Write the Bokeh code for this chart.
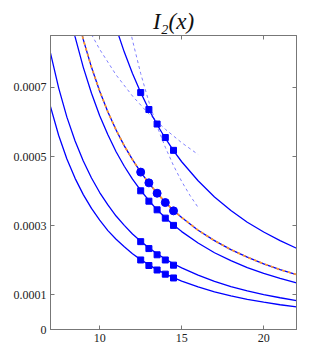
from bokeh.plotting import figure
from bokeh.models import Range1d, FixedTicker, LinearAxis
from bokeh.embed import file_html
from bokeh.resources import INLINE

# ---- data ----
x_ticks = [10, 15, 20]
y_ticks = [0, 0.0001, 0.0003, 0.0005, 0.0007]
y_tick_labels = ["0", "0.0001", "0.0003", "0.0005", "0.0007"]

c1_x = [10.5, 11, 11.5, 12, 12.5, 13, 13.5, 14, 14.5, 15, 16, 17, 18, 19, 20, 21, 22]
c1_y = [0.000952, 0.000872, 0.000802, 0.000740, 0.000685, 0.000636, 0.000592, 0.000553,
        0.000517, 0.000485, 0.000430, 0.000383, 0.000344, 0.000310, 0.000282, 0.000257, 0.000235]

c2_x = [8.5, 9, 9.5, 10, 10.5, 11, 11.5, 12, 12.5, 13, 13.5, 14, 14.5, 15, 16, 17, 18, 19, 20, 21, 22]
c2_y = [0.000932, 0.000838, 0.000758, 0.000689, 0.000629, 0.000577, 0.000531, 0.000491,
        0.000455, 0.000423, 0.000394, 0.000368, 0.000344, 0.000324, 0.000287, 0.000257,
        0.000231, 0.000209, 0.000190, 0.000173, 0.000159]

c3_x = [8, 8.5, 9, 9.5, 10, 10.5, 11, 11.5, 12, 12.5, 13, 13.5, 14, 14.5, 15, 16, 17, 18, 19, 20, 21, 22]
c3_y = [0.000951, 0.000846, 0.000758, 0.000683, 0.000618, 0.000563, 0.000514, 0.000472,
        0.000435, 0.000402, 0.000373, 0.000346, 0.000323, 0.000302, 0.000283, 0.000250,
        0.000222, 0.000199, 0.000179, 0.000162, 0.000148, 0.000135]

c4_x = [7, 7.5, 8, 8.5, 9, 9.5, 10, 10.5, 11, 11.5, 12, 12.5, 13, 13.5, 14, 14.5, 15, 16, 17, 18, 19, 20, 21, 22]
c4_y = [0.000799, 0.000698, 0.000614, 0.000545, 0.000487, 0.000438, 0.000396, 0.000360,
        0.000328, 0.000301, 0.000276, 0.000255, 0.000236, 0.000219, 0.000204, 0.000190,
        0.000178, 0.000157, 0.000139, 0.000124, 0.000112, 0.000101, 0.0000918, 0.0000837]

c5_x = [7, 7.5, 8, 8.5, 9, 9.5, 10, 10.5, 11, 11.5, 12, 12.5, 13, 13.5, 14, 14.5, 15, 16, 17, 18, 19, 20, 21, 22]
c5_y = [0.000644, 0.000561, 0.000493, 0.000437, 0.000390, 0.000350, 0.000316, 0.000286,
        0.000261, 0.000239, 0.000219, 0.000202, 0.000187, 0.000173, 0.000161, 0.000150,
        0.000140, 0.000123, 0.000109, 0.0000974, 0.0000874, 0.0000789, 0.0000716, 0.0000652]

dA_x = [9.5, 10, 11, 12, 13, 14, 15, 16]
dA_y = [0.000853, 0.000810, 0.000736, 0.000675, 0.000623, 0.000579, 0.000540, 0.000506]

dB_x = [11.8, 12, 12.5, 13, 13.5, 14, 14.5, 15, 15.5, 16]
dB_y = [0.000880, 0.000836, 0.000740, 0.000658, 0.000587, 0.000527, 0.000474, 0.000428, 0.000388, 0.000353]

mk_x = [12.5, 13, 13.5, 14, 14.5]
m1_y = [0.000685, 0.000636, 0.000594, 0.000555, 0.000518]
m2_y = [0.000455, 0.000424, 0.000394, 0.000367, 0.000343]
m3_y = [0.000401, 0.000371, 0.000346, 0.000322, 0.000301]
m4_y = [0.000254, 0.000234, 0.000216, 0.000201, 0.000186]
m5_y = [0.000201, 0.000185, 0.000172, 0.000160, 0.000149]

BLUE = "#0000ff"
ORANGE = "#ff9a2a"
DASH = "#8080ff"
AXIS = "#777777"
FONT = "Liberation Serif"

p = figure(width=304, height=354, output_backend="svg", toolbar_location=None,
           x_range=Range1d(7, 22), y_range=Range1d(0, 0.00085),
           x_axis_location=None, y_axis_location=None,
           min_border_left=50, min_border_right=8, min_border_top=35, min_border_bottom=25)
p.background_fill_color = "white"
p.border_fill_color = "white"
p.outline_line_color = AXIS
p.grid.visible = False

p.title.text = "I\u2082(x)"
p.title.text_font = FONT
p.title.text_font_style = "italic"
p.title.text_font_size = "23px"
p.title.text_color = "#111111"
p.title.align = "center"
p.title.standoff = 3

def make_axis(ticks, show_labels):
    ax = LinearAxis(ticker=FixedTicker(ticks=ticks))
    ax.axis_line_color = AXIS
    ax.major_tick_line_color = AXIS
    ax.major_tick_in = 4
    ax.major_tick_out = 0
    ax.minor_tick_line_color = None
    ax.major_label_text_font = FONT
    if show_labels:
        ax.major_label_text_font_size = "12px"
        ax.major_label_text_color = "#222222"
        ax.major_label_standoff = 4
    else:
        ax.major_label_text_font_size = "0px"
        ax.major_label_text_color = None
        ax.major_label_standoff = 0
    return ax

xb = make_axis(x_ticks, True)
yl = make_axis(y_ticks, True)
yl.major_label_overrides = {t: s for t, s in zip(y_ticks, y_tick_labels)}
xt = make_axis(x_ticks, False)
yr = make_axis(y_ticks, False)
p.add_layout(xb, "below")
p.add_layout(yl, "left")
p.add_layout(xt, "above")
p.add_layout(yr, "right")

# dashed guide curves
p.line(dA_x, dA_y, color=DASH, line_width=1, line_dash="3 3")
p.line(dB_x, dB_y, color=DASH, line_width=1, line_dash="3 3")

# solid curves
for cx, cy in [(c1_x, c1_y), (c2_x, c2_y), (c3_x, c3_y), (c4_x, c4_y), (c5_x, c5_y)]:
    p.line(cx, cy, color=BLUE, line_width=1.3)
p.line(c2_x, c2_y, color=ORANGE, line_width=1.7, line_dash="3 3")

# markers
for my in [m1_y, m3_y, m4_y, m5_y]:
    p.scatter(mk_x, my, marker="square", size=6, color=BLUE)
p.scatter(mk_x, m2_y, marker="circle", size=8, color=BLUE)

open("out.html", "w").write(file_html(p, INLINE))
